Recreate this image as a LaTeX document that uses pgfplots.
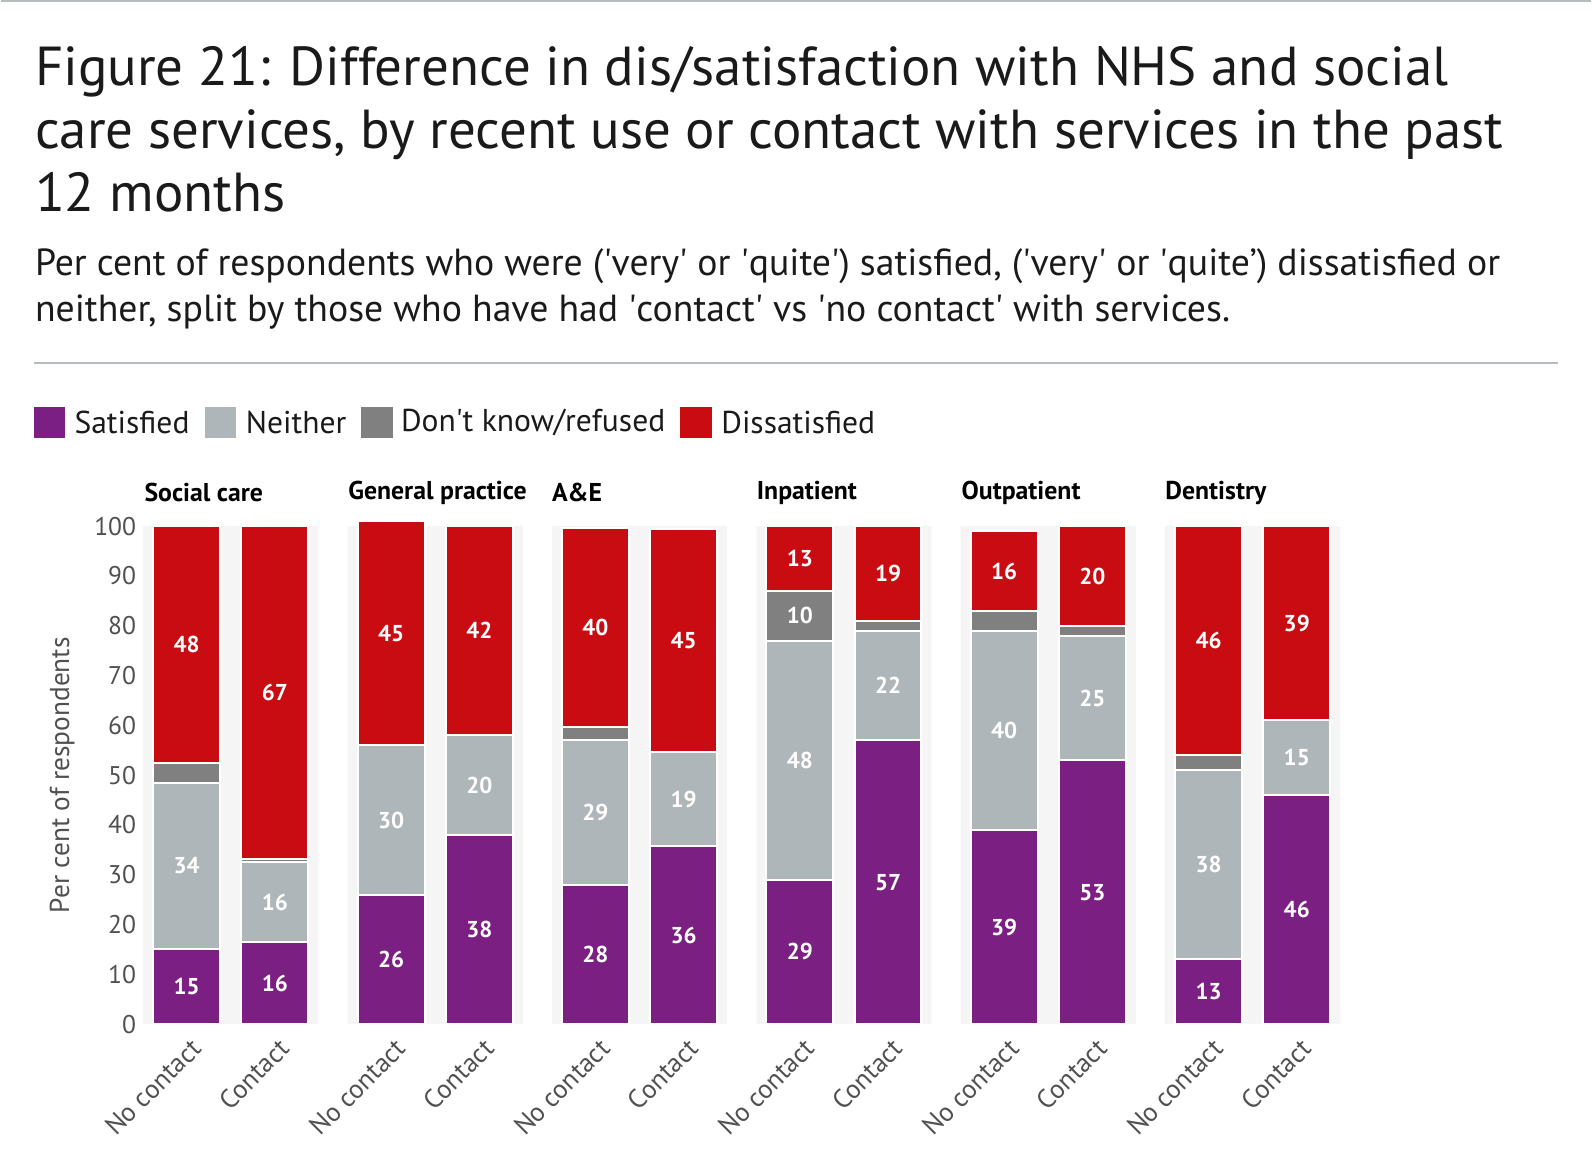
\documentclass[border=0pt]{standalone}
\usepackage{fontspec}
\setmainfont{PT Sans}
\usepackage{pgfplots}
\usepackage{pgfplotstable}
\pgfplotsset{compat=1.18}

\definecolor{satc}{HTML}{7B2082}
\definecolor{neic}{HTML}{AFB6BA}
\definecolor{dkc}{HTML}{808080}
\definecolor{disc}{HTML}{C80C11}
\definecolor{panelc}{HTML}{F5F5F5}
\definecolor{rulec}{HTML}{B4BEBF}
\definecolor{tickc}{HTML}{505050}
\definecolor{titlec}{HTML}{1A1A1A}
\newcommand{\q}{\textquotesingle}

% x = bar centre (px), then satisfied / neither / don't know / dissatisfied
\pgfplotstableread{
x      S    N    DK   D
183    15   33.5 4    47.5
270    16.5 16   0.7  66.8
384.6  26   30   0    45
471.6  38   20   0    42
586.2  28   29   2.7  40
673.2  35.7 19   0    44.8
787.8  29   48   10   13
874.8  57   22   2    19
989.4  39   40   4    16
1076.4 53   25   2    20
1191   13   38   3    46
1278   46   15   0    39
}\bars

\pgfplotstableread{
x      y     lab
183    7.5   15
183    31.75 34
183    76.25 48
270    8.25  16
270    24.5  16
270    66.6  67
384.6  13    26
384.6  41    30
384.6  78.5  45
471.6  19    38
471.6  48    20
471.6  79    42
586.2  14    28
586.2  42.5  29
586.2  79.7  40
673.2  17.85 36
673.2  45.2  19
673.2  77.1  45
787.8  14.5  29
787.8  53    48
787.8  82    10
787.8  93.5  13
874.8  28.5  57
874.8  68    22
874.8  90.5  19
989.4  19.5  39
989.4  59    40
989.4  91    16
1076.4 26.5  53
1076.4 65.5  25
1076.4 90    20
1191   6.5   13
1191   32    38
1191   77    46
1278   23    46
1278   53.5  15
1278   80.5  39
}\labels

\pgfplotsset{
  frame/.style={
    at={(axorigin)}, anchor=south west, scale only axis,
    width=599.5pt, height=249.3pt,
    xmin=140, xmax=1321, ymin=0, ymax=100, clip=false,
  },
}

\begin{document}
\begin{tikzpicture}[x=0.50765pt,y=-0.50765pt]
\path (0,0) rectangle (1568,1133);
\coordinate (axorigin) at (140,1010);
\draw[rulec, line width=1.2pt] (0,1) -- (1568,1);

\begin{scope}[font=\fontsize{27.5}{33}\selectfont, text=titlec]
\node[anchor=base west, inner sep=0] at (33,84) {Figure 21: Difference in dis/satisfaction with NHS and social};
\node[anchor=base west, inner sep=0] at (33,146) {care services, by recent use or contact with services in the past};
\node[anchor=base west, inner sep=0] at (33,208) {12 months};
\end{scope}
\begin{scope}[font=\fontsize{18.9}{23}\selectfont, text=titlec]
\node[anchor=base west, inner sep=0] at (33,272) {Per cent of respondents who were (\q very\q{} or \q quite\q) satisfied, (\q very\q{} or \q quite’) dissatisfied or};
\node[anchor=base west, inner sep=0] at (33,317) {neither, split by those who have had \q contact\q{} vs \q no contact\q{} with services.};
\end{scope}
\draw[rulec, line width=0.8pt] (32,358) -- (1536,358);

% legend
\begin{scope}[font=\fontsize{15.8}{19}\selectfont, text=titlec]
\fill[satc] (32,401) rectangle (63,432);
\node[anchor=west, inner sep=0] at (72,417) {Satisfied};
\fill[neic] (201,401) rectangle (232,432);
\node[anchor=west, inner sep=0] at (241,417) {Neither};
\fill[dkc] (355,401) rectangle (386,432);
\node[anchor=west, inner sep=0] at (394,417) {Don\q t know/refused};
\fill[disc] (670,401) rectangle (701,432);
\node[anchor=west, inner sep=0] at (710,417) {Dissatisfied};
\end{scope}

% group headings
\begin{scope}[font=\bfseries\fontsize{12.9}{15}\selectfont, text=black]
\node[anchor=west, inner sep=0] at (141,486) {Social care};
\node[anchor=west, inner sep=0] at (342,486) {General practice};
\node[anchor=west, inner sep=0] at (543,486) {A\&E};
\node[anchor=west, inner sep=0] at (745,486) {Inpatient};
\node[anchor=west, inner sep=0] at (947,486) {Outpatient};
\node[anchor=west, inner sep=0] at (1148,486) {Dentistry};
\end{scope}

% background panels
\begin{axis}[frame, hide axis, ybar, bar width=87.8pt]
\addplot[fill=panelc, draw=none] coordinates {
  (226.5,100) (428.1,100) (629.7,100) (831.3,100) (1032.9,100) (1234.5,100)};
\end{axis}

% stacked bars
\begin{axis}[frame, ybar stacked, bar width=33.5pt,
  axis line style={draw=none}, major tick length=0pt,
  /pgf/number format/assume math mode=true,
  ytick={0,10,...,100},
  yticklabel style={font=\fontsize{12.8}{15}\selectfont, text=tickc},
  xtick={183,270,384.6,471.6,586.2,673.2,787.8,874.8,989.4,1076.4,1191,1278},
  xticklabels={No contact,Contact,No contact,Contact,No contact,Contact,
               No contact,Contact,No contact,Contact,No contact,Contact},
  xticklabel style={font=\fontsize{13.3}{15}\selectfont, text=tickc,
                    rotate=45, anchor=north east, xshift=0pt, yshift=-2pt},
  ylabel={Per cent of respondents},
  every axis y label/.style={at={(axis description cs:-0.0677,0.5)},
                             rotate=90, anchor=center,
                             font=\fontsize{13.7}{16}\selectfont, text=tickc},
  every axis plot/.append style={draw=white, line width=1pt},
]
\addplot[fill=satc] table[x=x, y=S] {\bars};
\addplot[fill=neic] table[x=x, y=N] {\bars};
\addplot[fill=dkc]  table[x=x, y=DK] {\bars};
\addplot[fill=disc] table[x=x, y=D] {\bars};
\end{axis}

% value labels
\begin{axis}[frame, hide axis]
\addplot[draw=none, nodes near coords, point meta=explicit symbolic,
  every node near coord/.style={anchor=center, text=white,
    font=\bfseries\fontsize{11.5}{13}\selectfont}]
  table[x=x, y=y, meta=lab] {\labels};
\end{axis}
\end{tikzpicture}
\end{document}
